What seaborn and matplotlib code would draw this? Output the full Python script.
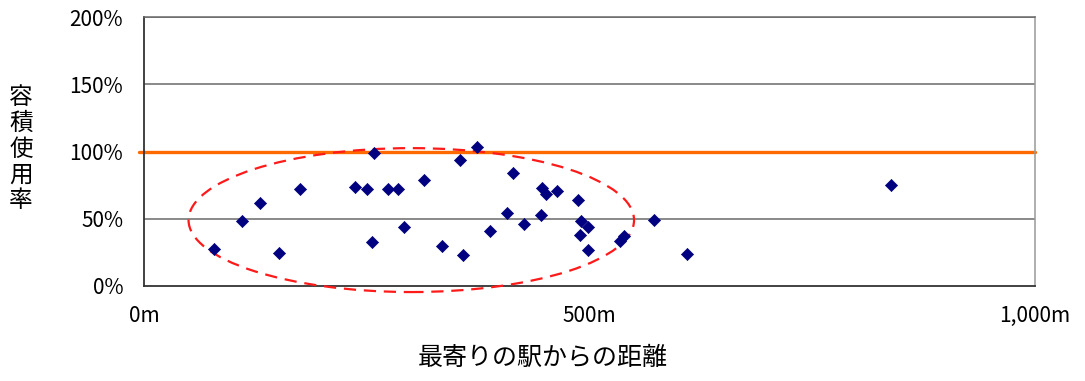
"""
Scatter of floor-area usage rate vs distance to nearest station
"""

import matplotlib
matplotlib.use('Agg')
import matplotlib.pyplot as plt
from matplotlib.patches import Ellipse
from matplotlib.ticker import FuncFormatter
import seaborn as sns
import pandas as pd

# Data
distance_m = [79, 110, 130, 152, 175, 237, 250, 258, 256, 274, 285, 292,
              314, 334, 355, 358, 374, 388, 407, 414, 427, 446, 447, 451,
              463, 487, 490, 489, 498, 498, 534, 539, 572, 609, 838]
usage_pct = [27.5, 48.6, 61.9, 24.2, 71.9, 73.4, 72.0, 99.1, 32.5, 72.0, 72.1, 43.5,
             78.8, 29.9, 93.7, 23.2, 103.3, 40.7, 54.3, 83.8, 46.1, 52.8, 73.1, 68.2,
             70.6, 64.2, 48.5, 38.2, 44.1, 26.8, 33.1, 37.0, 49.3, 23.8, 74.9]

x_ticks = [0, 500, 1000]
y_ticks = [0, 50, 100, 150, 200]
x_label = '最寄りの駅からの距離'
y_label = '容積使用率'

# Ellipse that marks the cluster (centre, width, height in data units)
ellipse_center = (300, 49)
ellipse_size = (500, 107)

FONT = ['Noto Sans CJK JP', 'DejaVu Sans']


def main():
    sns.set_style("white")
    plt.rcParams['font.family'] = FONT
    plt.rcParams['text.color'] = 'black'
    plt.rcParams['xtick.labelcolor'] = 'black'
    plt.rcParams['ytick.labelcolor'] = 'black'

    df = pd.DataFrame({'distance': distance_m, 'usage': usage_pct})

    fig = plt.figure(figsize=(10.85, 3.81), dpi=100)
    ax = fig.add_axes([144 / 1085, 1 - 286 / 381, (1035 - 144) / 1085, (286 - 17) / 381])

    # grid lines
    for yv in [50, 150, 200]:
        ax.axhline(yv, color='#6a6a6a', lw=1.1, zorder=1)

    # 100% reference line
    ax.plot([-6, 1000], [100, 100], color='#ff6a00', lw=2.4, zorder=2, clip_on=False)

    sns.scatterplot(data=df, x='distance', y='usage', ax=ax, marker='D', s=38,
                    color='#000080', edgecolor='#000080', linewidth=0.5, zorder=4)

    ell = Ellipse(ellipse_center, ellipse_size[0], ellipse_size[1], fill=False,
                  edgecolor='#ff1a1a', lw=1.6, linestyle=(0, (5.5, 3.5)), zorder=3,
                  clip_on=False)
    ax.add_patch(ell)

    ax.set_xlim(0, 1000)
    ax.set_ylim(0, 200)
    ax.set_xticks(x_ticks)
    ax.set_yticks(y_ticks)
    ax.xaxis.set_major_formatter(FuncFormatter(lambda v, p: f'{int(v):,}m'))
    ax.yaxis.set_major_formatter(FuncFormatter(lambda v, p: f'{int(v)}%'))
    ax.tick_params(axis='x', direction='in', length=7, width=1.2, color='#444444',
                   pad=14, labelsize=15)
    ax.tick_params(axis='y', length=0, pad=15, labelsize=15)
    ax.set_xlabel('')
    ax.set_ylabel('')

    for side in ['left', 'bottom']:
        ax.spines[side].set_color('#333333')
        ax.spines[side].set_linewidth(1.3)
    ax.spines['top'].set_color('#6a6a6a')
    ax.spines['top'].set_linewidth(1.1)
    ax.spines['right'].set_color('#999999')
    ax.spines['right'].set_linewidth(1.1)

    fig.text(543 / 1085, 1 - 358 / 381, x_label, ha='center', va='center', fontsize=18)
    fig.text(21 / 1085, 1 - 149 / 381, '\n'.join(y_label), ha='center', va='center',
             fontsize=17, linespacing=1.15)

    fig.savefig('out.png', dpi=100)
    plt.close(fig)


if __name__ == '__main__':
    main()
